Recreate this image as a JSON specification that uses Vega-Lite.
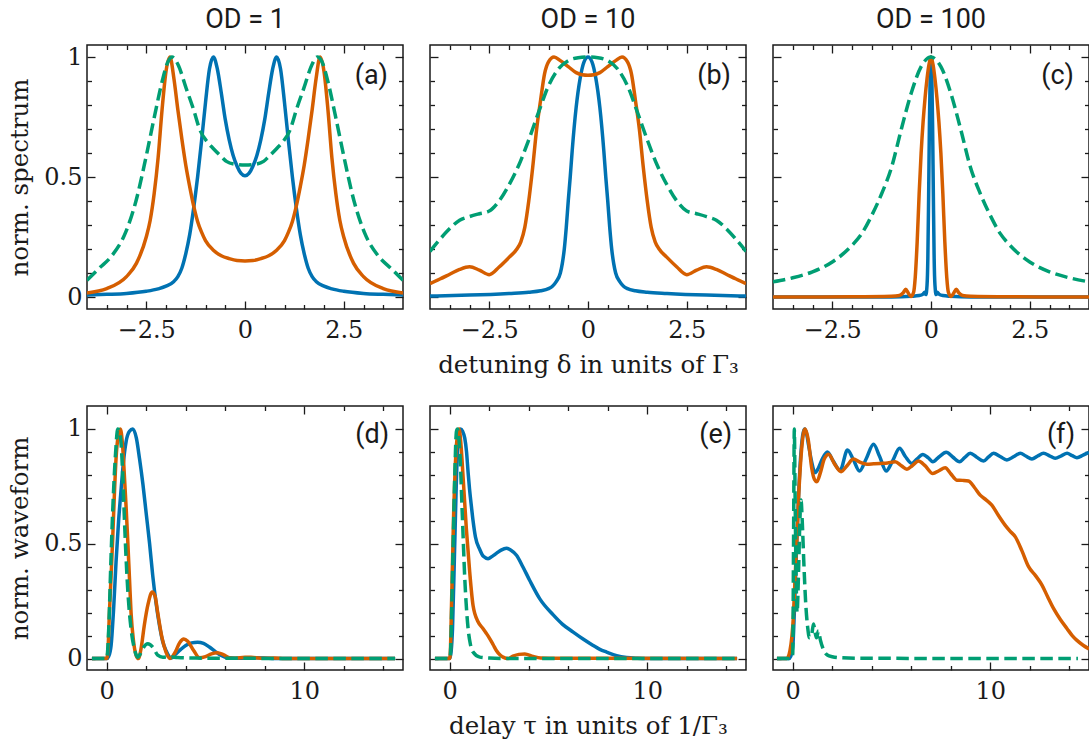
{
"$schema": "https://vega.github.io/schema/vega-lite/v6.json",
"background": "white",
"padding": {"left": 7, "top": 5, "right": 0, "bottom": 5},
"config": {
  "view": {"stroke": "#1a1a1a", "strokeWidth": 1.5},
  "axis": {"domain": false, "grid": false, "tickColor": "#1a1a1a", "tickWidth": 1.3, "labelFont": "DejaVu Serif", "labelFontSize": 24, "labelColor": "#1a1a1a", "titleFont": "DejaVu Serif", "titleFontSize": 24.5, "titleFontWeight": "normal", "titleColor": "#1a1a1a"},
  "title": {"font": "Roboto", "fontSize": 27, "fontWeight": "normal", "color": "#1a1a1a", "offset": 10, "frame": "group", "anchor": "middle"}
},
"datasets": {
  "a_b": [{"x":-4,"y":0.008},{"x":-3.5,"y":0.011},{"x":-3,"y":0.015},{"x":-2.5,"y":0.024},{"x":-2.2,"y":0.034},{"x":-2,"y":0.045},{"x":-1.8,"y":0.065},{"x":-1.7,"y":0.085},{"x":-1.6,"y":0.12},{"x":-1.5,"y":0.18},{"x":-1.4,"y":0.26},{"x":-1.3,"y":0.37},{"x":-1.2,"y":0.5},{"x":-1.1,"y":0.65},{"x":-1,"y":0.81},{"x":-0.9,"y":0.95},{"x":-0.8,"y":1},{"x":-0.7,"y":0.95},{"x":-0.6,"y":0.85},{"x":-0.5,"y":0.74},{"x":-0.4,"y":0.655},{"x":-0.3,"y":0.59},{"x":-0.2,"y":0.545},{"x":-0.1,"y":0.515},{"x":0,"y":0.505},{"x":0.1,"y":0.515},{"x":0.2,"y":0.545},{"x":0.3,"y":0.59},{"x":0.4,"y":0.655},{"x":0.5,"y":0.74},{"x":0.6,"y":0.85},{"x":0.7,"y":0.95},{"x":0.8,"y":1},{"x":0.9,"y":0.95},{"x":1,"y":0.81},{"x":1.1,"y":0.65},{"x":1.2,"y":0.5},{"x":1.3,"y":0.37},{"x":1.4,"y":0.26},{"x":1.5,"y":0.18},{"x":1.6,"y":0.12},{"x":1.7,"y":0.085},{"x":1.8,"y":0.065},{"x":2,"y":0.045},{"x":2.2,"y":0.034},{"x":2.5,"y":0.024},{"x":3,"y":0.015},{"x":3.5,"y":0.011},{"x":4,"y":0.008}],
  "a_o": [{"x":-4,"y":0.017},{"x":-3.5,"y":0.035},{"x":-3,"y":0.085},{"x":-2.75,"y":0.14},{"x":-2.5,"y":0.25},{"x":-2.4,"y":0.32},{"x":-2.3,"y":0.43},{"x":-2.2,"y":0.58},{"x":-2.1,"y":0.78},{"x":-2,"y":0.94},{"x":-1.9,"y":1},{"x":-1.8,"y":0.91},{"x":-1.7,"y":0.78},{"x":-1.6,"y":0.66},{"x":-1.5,"y":0.55},{"x":-1.4,"y":0.46},{"x":-1.3,"y":0.38},{"x":-1.2,"y":0.315},{"x":-1.1,"y":0.27},{"x":-1,"y":0.235},{"x":-0.8,"y":0.195},{"x":-0.6,"y":0.172},{"x":-0.4,"y":0.16},{"x":-0.2,"y":0.152},{"x":0,"y":0.15},{"x":0.2,"y":0.152},{"x":0.4,"y":0.16},{"x":0.6,"y":0.172},{"x":0.8,"y":0.195},{"x":1,"y":0.235},{"x":1.1,"y":0.27},{"x":1.2,"y":0.315},{"x":1.3,"y":0.38},{"x":1.4,"y":0.46},{"x":1.5,"y":0.55},{"x":1.6,"y":0.66},{"x":1.7,"y":0.78},{"x":1.8,"y":0.91},{"x":1.9,"y":1},{"x":2,"y":0.94},{"x":2.1,"y":0.78},{"x":2.2,"y":0.58},{"x":2.3,"y":0.43},{"x":2.4,"y":0.32},{"x":2.5,"y":0.25},{"x":2.75,"y":0.14},{"x":3,"y":0.085},{"x":3.5,"y":0.035},{"x":4,"y":0.017}],
  "a_g": [{"x":-4,"y":0.07},{"x":-3.69,"y":0.12},{"x":-3.36,"y":0.174},{"x":-3.02,"y":0.27},{"x":-2.76,"y":0.4},{"x":-2.51,"y":0.58},{"x":-2.3,"y":0.746},{"x":-2.08,"y":0.91},{"x":-1.95,"y":0.98},{"x":-1.85,"y":1},{"x":-1.7,"y":0.97},{"x":-1.49,"y":0.87},{"x":-1.3,"y":0.78},{"x":-1.15,"y":0.7},{"x":-0.95,"y":0.645},{"x":-0.81,"y":0.62},{"x":-0.6,"y":0.585},{"x":-0.47,"y":0.565},{"x":-0.25,"y":0.553},{"x":0,"y":0.55},{"x":0.25,"y":0.553},{"x":0.47,"y":0.565},{"x":0.6,"y":0.585},{"x":0.81,"y":0.62},{"x":0.95,"y":0.645},{"x":1.15,"y":0.7},{"x":1.3,"y":0.78},{"x":1.49,"y":0.87},{"x":1.7,"y":0.97},{"x":1.83,"y":1},{"x":1.95,"y":0.98},{"x":2.08,"y":0.91},{"x":2.3,"y":0.746},{"x":2.51,"y":0.58},{"x":2.76,"y":0.4},{"x":3.02,"y":0.27},{"x":3.36,"y":0.174},{"x":3.69,"y":0.12},{"x":4,"y":0.07}],
  "b_b": [{"x":-4,"y":0.004},{"x":-3,"y":0.008},{"x":-2,"y":0.015},{"x":-1.5,"y":0.02},{"x":-1.2,"y":0.026},{"x":-1,"y":0.035},{"x":-0.9,"y":0.045},{"x":-0.8,"y":0.065},{"x":-0.7,"y":0.1},{"x":-0.65,"y":0.14},{"x":-0.6,"y":0.2},{"x":-0.55,"y":0.29},{"x":-0.5,"y":0.4},{"x":-0.45,"y":0.5},{"x":-0.4,"y":0.61},{"x":-0.3,"y":0.79},{"x":-0.2,"y":0.91},{"x":-0.1,"y":0.98},{"x":0,"y":1},{"x":0.1,"y":0.98},{"x":0.2,"y":0.91},{"x":0.3,"y":0.79},{"x":0.4,"y":0.61},{"x":0.45,"y":0.5},{"x":0.5,"y":0.4},{"x":0.55,"y":0.29},{"x":0.6,"y":0.2},{"x":0.65,"y":0.14},{"x":0.7,"y":0.1},{"x":0.8,"y":0.065},{"x":0.9,"y":0.045},{"x":1,"y":0.035},{"x":1.2,"y":0.026},{"x":1.5,"y":0.02},{"x":2,"y":0.015},{"x":3,"y":0.008},{"x":4,"y":0.004}],
  "b_o": [{"x":-4,"y":0.056},{"x":-3.75,"y":0.075},{"x":-3.5,"y":0.095},{"x":-3.25,"y":0.115},{"x":-3,"y":0.126},{"x":-2.75,"y":0.112},{"x":-2.5,"y":0.093},{"x":-2.25,"y":0.125},{"x":-2,"y":0.165},{"x":-1.8,"y":0.2},{"x":-1.7,"y":0.23},{"x":-1.6,"y":0.29},{"x":-1.5,"y":0.4},{"x":-1.4,"y":0.54},{"x":-1.3,"y":0.7},{"x":-1.2,"y":0.82},{"x":-1.1,"y":0.93},{"x":-1,"y":0.98},{"x":-0.86,"y":1},{"x":-0.7,"y":0.985},{"x":-0.5,"y":0.96},{"x":-0.3,"y":0.935},{"x":-0.15,"y":0.926},{"x":0,"y":0.924},{"x":0.15,"y":0.926},{"x":0.3,"y":0.935},{"x":0.5,"y":0.96},{"x":0.7,"y":0.985},{"x":0.86,"y":1},{"x":1,"y":0.98},{"x":1.1,"y":0.93},{"x":1.2,"y":0.82},{"x":1.3,"y":0.7},{"x":1.4,"y":0.54},{"x":1.5,"y":0.4},{"x":1.6,"y":0.29},{"x":1.7,"y":0.23},{"x":1.8,"y":0.2},{"x":2,"y":0.165},{"x":2.25,"y":0.125},{"x":2.5,"y":0.093},{"x":2.75,"y":0.112},{"x":3,"y":0.126},{"x":3.25,"y":0.115},{"x":3.5,"y":0.095},{"x":3.75,"y":0.075},{"x":4,"y":0.056}],
  "b_g": [{"x":-4,"y":0.19},{"x":-3.75,"y":0.24},{"x":-3.5,"y":0.285},{"x":-3.25,"y":0.32},{"x":-3,"y":0.335},{"x":-2.75,"y":0.347},{"x":-2.5,"y":0.358},{"x":-2.25,"y":0.4},{"x":-2,"y":0.467},{"x":-1.75,"y":0.55},{"x":-1.5,"y":0.655},{"x":-1.25,"y":0.77},{"x":-1,"y":0.88},{"x":-0.75,"y":0.95},{"x":-0.5,"y":0.985},{"x":-0.25,"y":0.997},{"x":0,"y":1},{"x":0.25,"y":0.997},{"x":0.5,"y":0.985},{"x":0.75,"y":0.95},{"x":1,"y":0.88},{"x":1.25,"y":0.77},{"x":1.5,"y":0.655},{"x":1.75,"y":0.55},{"x":2,"y":0.467},{"x":2.25,"y":0.4},{"x":2.5,"y":0.358},{"x":2.75,"y":0.347},{"x":3,"y":0.335},{"x":3.25,"y":0.32},{"x":3.5,"y":0.285},{"x":3.75,"y":0.24},{"x":4,"y":0.19}],
  "c_b": [{"x":-4,"y":0},{"x":-1,"y":0},{"x":-0.5,"y":0.003},{"x":-0.3,"y":0.006},{"x":-0.2,"y":0.012},{"x":-0.16,"y":0.02},{"x":-0.13,"y":0.01},{"x":-0.1,"y":0.05},{"x":-0.08,"y":0.16},{"x":-0.06,"y":0.42},{"x":-0.04,"y":0.72},{"x":-0.02,"y":0.93},{"x":0,"y":1},{"x":0.02,"y":0.93},{"x":0.04,"y":0.72},{"x":0.06,"y":0.42},{"x":0.08,"y":0.16},{"x":0.1,"y":0.05},{"x":0.13,"y":0.01},{"x":0.16,"y":0.02},{"x":0.2,"y":0.012},{"x":0.3,"y":0.006},{"x":0.5,"y":0.003},{"x":1,"y":0},{"x":4,"y":0}],
  "c_o": [{"x":-4,"y":0},{"x":-2,"y":0.001},{"x":-1,"y":0.003},{"x":-0.8,"y":0.006},{"x":-0.7,"y":0.018},{"x":-0.64,"y":0.032},{"x":-0.58,"y":0.018},{"x":-0.51,"y":0.002},{"x":-0.44,"y":0.02},{"x":-0.4,"y":0.08},{"x":-0.35,"y":0.23},{"x":-0.3,"y":0.43},{"x":-0.25,"y":0.6},{"x":-0.2,"y":0.73},{"x":-0.15,"y":0.83},{"x":-0.1,"y":0.91},{"x":-0.05,"y":0.97},{"x":0,"y":1},{"x":0.05,"y":0.97},{"x":0.1,"y":0.91},{"x":0.15,"y":0.83},{"x":0.2,"y":0.73},{"x":0.25,"y":0.6},{"x":0.3,"y":0.43},{"x":0.35,"y":0.23},{"x":0.4,"y":0.08},{"x":0.44,"y":0.02},{"x":0.51,"y":0.002},{"x":0.58,"y":0.018},{"x":0.64,"y":0.032},{"x":0.7,"y":0.018},{"x":0.8,"y":0.006},{"x":1,"y":0.003},{"x":2,"y":0.001},{"x":4,"y":0}],
  "c_g": [{"x":-4,"y":0.063},{"x":-3.5,"y":0.08},{"x":-3,"y":0.105},{"x":-2.5,"y":0.146},{"x":-2,"y":0.215},{"x":-1.75,"y":0.265},{"x":-1.5,"y":0.34},{"x":-1.25,"y":0.43},{"x":-1,"y":0.54},{"x":-0.75,"y":0.7},{"x":-0.5,"y":0.85},{"x":-0.25,"y":0.96},{"x":0,"y":1},{"x":0.25,"y":0.96},{"x":0.5,"y":0.85},{"x":0.75,"y":0.7},{"x":1,"y":0.54},{"x":1.25,"y":0.43},{"x":1.5,"y":0.34},{"x":1.75,"y":0.265},{"x":2,"y":0.215},{"x":2.5,"y":0.146},{"x":3,"y":0.105},{"x":3.5,"y":0.08},{"x":4,"y":0.063}],
  "d_b": [{"x":-0.75,"y":0},{"x":0,"y":0},{"x":0.1,"y":0.01},{"x":0.22,"y":0.057},{"x":0.35,"y":0.22},{"x":0.47,"y":0.42},{"x":0.6,"y":0.6},{"x":0.73,"y":0.74},{"x":0.85,"y":0.86},{"x":0.98,"y":0.945},{"x":1.15,"y":0.99},{"x":1.32,"y":1},{"x":1.5,"y":0.96},{"x":1.66,"y":0.87},{"x":1.83,"y":0.76},{"x":2,"y":0.63},{"x":2.17,"y":0.5},{"x":2.33,"y":0.36},{"x":2.5,"y":0.24},{"x":2.67,"y":0.144},{"x":2.83,"y":0.075},{"x":3,"y":0.035},{"x":3.15,"y":0.01},{"x":3.28,"y":0.002},{"x":3.5,"y":0.02},{"x":3.75,"y":0.04},{"x":4,"y":0.057},{"x":4.3,"y":0.068},{"x":4.6,"y":0.071},{"x":4.9,"y":0.066},{"x":5.2,"y":0.05},{"x":5.5,"y":0.03},{"x":5.8,"y":0.013},{"x":6.1,"y":0.003},{"x":6.5,"y":0.001},{"x":7,"y":0.002},{"x":7.5,"y":0.003},{"x":8,"y":0.002},{"x":8.5,"y":0},{"x":14.6,"y":0}],
  "d_o": [{"x":-0.75,"y":0},{"x":0,"y":0},{"x":0.07,"y":0.05},{"x":0.135,"y":0.2},{"x":0.22,"y":0.36},{"x":0.3,"y":0.52},{"x":0.38,"y":0.7},{"x":0.47,"y":0.87},{"x":0.58,"y":0.97},{"x":0.69,"y":1},{"x":0.8,"y":0.93},{"x":0.9,"y":0.785},{"x":0.98,"y":0.66},{"x":1.06,"y":0.52},{"x":1.15,"y":0.35},{"x":1.23,"y":0.2},{"x":1.35,"y":0.08},{"x":1.49,"y":0.013},{"x":1.6,"y":0},{"x":1.75,"y":0.05},{"x":1.9,"y":0.144},{"x":2.1,"y":0.24},{"x":2.3,"y":0.29},{"x":2.45,"y":0.27},{"x":2.58,"y":0.2},{"x":2.8,"y":0.09},{"x":3,"y":0.028},{"x":3.2,"y":0},{"x":3.45,"y":0.025},{"x":3.7,"y":0.07},{"x":3.9,"y":0.085},{"x":4.1,"y":0.075},{"x":4.4,"y":0.035},{"x":4.7,"y":0.003},{"x":5,"y":0.008},{"x":5.3,"y":0.02},{"x":5.6,"y":0.025},{"x":5.9,"y":0.017},{"x":6.2,"y":0.004},{"x":6.5,"y":0.001},{"x":7,"y":0.005},{"x":7.3,"y":0.005},{"x":7.8,"y":0.001},{"x":8.5,"y":0.002},{"x":9,"y":0},{"x":14.6,"y":0}],
  "d_g": [{"x":-0.75,"y":0},{"x":0,"y":0},{"x":0.05,"y":0.04},{"x":0.1,"y":0.13},{"x":0.22,"y":0.45},{"x":0.3,"y":0.64},{"x":0.44,"y":0.886},{"x":0.56,"y":1},{"x":0.65,"y":0.99},{"x":0.73,"y":0.93},{"x":0.82,"y":0.78},{"x":0.9,"y":0.595},{"x":1.06,"y":0.304},{"x":1.23,"y":0.13},{"x":1.4,"y":0.042},{"x":1.57,"y":0.006},{"x":1.7,"y":0.02},{"x":1.82,"y":0.042},{"x":2.08,"y":0.064},{"x":2.33,"y":0.05},{"x":2.58,"y":0.015},{"x":2.84,"y":0.006},{"x":3.2,"y":0.008},{"x":3.6,"y":0.004},{"x":4.5,"y":0.002},{"x":6,"y":0.001},{"x":14.6,"y":0}],
  "e_b": [{"x":-0.75,"y":0},{"x":0,"y":0},{"x":0.07,"y":0.03},{"x":0.14,"y":0.13},{"x":0.25,"y":0.49},{"x":0.37,"y":0.86},{"x":0.45,"y":0.96},{"x":0.54,"y":1},{"x":0.65,"y":0.99},{"x":0.76,"y":0.96},{"x":0.85,"y":0.9},{"x":0.93,"y":0.81},{"x":1,"y":0.74},{"x":1.1,"y":0.66},{"x":1.18,"y":0.6},{"x":1.3,"y":0.53},{"x":1.52,"y":0.475},{"x":1.7,"y":0.445},{"x":1.94,"y":0.435},{"x":2.15,"y":0.445},{"x":2.36,"y":0.458},{"x":2.6,"y":0.472},{"x":2.87,"y":0.48},{"x":3.1,"y":0.472},{"x":3.38,"y":0.45},{"x":3.7,"y":0.4},{"x":4.05,"y":0.34},{"x":4.56,"y":0.26},{"x":5.24,"y":0.19},{"x":5.7,"y":0.15},{"x":6.25,"y":0.115},{"x":6.75,"y":0.085},{"x":7.26,"y":0.057},{"x":7.6,"y":0.04},{"x":7.94,"y":0.028},{"x":8.45,"y":0.012},{"x":8.95,"y":0.004},{"x":9.5,"y":0.001},{"x":10,"y":0},{"x":14.55,"y":0}],
  "e_o": [{"x":-0.75,"y":0},{"x":0,"y":0},{"x":0.04,"y":0.05},{"x":0.08,"y":0.2},{"x":0.14,"y":0.42},{"x":0.2,"y":0.64},{"x":0.27,"y":0.82},{"x":0.34,"y":0.93},{"x":0.47,"y":1},{"x":0.57,"y":0.93},{"x":0.68,"y":0.785},{"x":0.84,"y":0.566},{"x":1.01,"y":0.377},{"x":1.18,"y":0.231},{"x":1.44,"y":0.159},{"x":1.69,"y":0.13},{"x":1.85,"y":0.11},{"x":2.03,"y":0.086},{"x":2.2,"y":0.06},{"x":2.36,"y":0.035},{"x":2.55,"y":0.015},{"x":2.7,"y":0.006},{"x":2.96,"y":0},{"x":3.2,"y":0.01},{"x":3.5,"y":0.018},{"x":3.8,"y":0.02},{"x":4.22,"y":0.009},{"x":4.6,"y":0.002},{"x":5.5,"y":0.001},{"x":14.55,"y":0}],
  "e_g": [{"x":-0.75,"y":0},{"x":0,"y":0},{"x":0.05,"y":0.05},{"x":0.1,"y":0.22},{"x":0.17,"y":0.49},{"x":0.25,"y":0.785},{"x":0.34,"y":0.99},{"x":0.39,"y":1},{"x":0.51,"y":0.9},{"x":0.63,"y":0.64},{"x":0.76,"y":0.35},{"x":0.93,"y":0.13},{"x":1.05,"y":0.06},{"x":1.18,"y":0.028},{"x":1.52,"y":0.006},{"x":2,"y":0.002},{"x":3,"y":0},{"x":14.55,"y":0}],
  "f_b": [{"x":-0.8,"y":0},{"x":-0.2,"y":0},{"x":-0.1,"y":0.01},{"x":0,"y":0.05},{"x":0.1,"y":0.25},{"x":0.2,"y":0.5},{"x":0.3,"y":0.72},{"x":0.4,"y":0.88},{"x":0.5,"y":0.97},{"x":0.6,"y":1},{"x":0.7,"y":0.98},{"x":0.8,"y":0.93},{"x":0.95,"y":0.86},{"x":1.13,"y":0.81},{"x":1.3,"y":0.83},{"x":1.5,"y":0.87},{"x":1.75,"y":0.9},{"x":2.05,"y":0.86},{"x":2.4,"y":0.82},{"x":2.77,"y":0.908},{"x":3.05,"y":0.87},{"x":3.38,"y":0.817},{"x":3.72,"y":0.87},{"x":4.09,"y":0.933},{"x":4.4,"y":0.88},{"x":4.73,"y":0.817},{"x":5.05,"y":0.86},{"x":5.41,"y":0.916},{"x":5.7,"y":0.88},{"x":6.03,"y":0.85},{"x":6.3,"y":0.87},{"x":6.59,"y":0.889},{"x":6.85,"y":0.875},{"x":7.09,"y":0.857},{"x":7.4,"y":0.878},{"x":7.77,"y":0.898},{"x":8.1,"y":0.878},{"x":8.45,"y":0.857},{"x":8.7,"y":0.875},{"x":8.99,"y":0.894},{"x":9.3,"y":0.878},{"x":9.66,"y":0.86},{"x":9.9,"y":0.877},{"x":10.17,"y":0.894},{"x":10.5,"y":0.88},{"x":10.84,"y":0.865},{"x":11.2,"y":0.88},{"x":11.52,"y":0.894},{"x":11.8,"y":0.882},{"x":12.11,"y":0.869},{"x":12.4,"y":0.882},{"x":12.7,"y":0.894},{"x":13,"y":0.883},{"x":13.29,"y":0.872},{"x":13.6,"y":0.883},{"x":13.89,"y":0.894},{"x":14.15,"y":0.884},{"x":14.39,"y":0.875},{"x":14.7,"y":0.886},{"x":15,"y":0.898}],
  "f_o": [{"x":-0.8,"y":0},{"x":-0.3,"y":0},{"x":-0.14,"y":0.035},{"x":0.03,"y":0.18},{"x":0.12,"y":0.355},{"x":0.2,"y":0.5},{"x":0.29,"y":0.69},{"x":0.42,"y":0.88},{"x":0.54,"y":0.98},{"x":0.62,"y":1},{"x":0.7,"y":0.985},{"x":0.79,"y":0.95},{"x":0.96,"y":0.83},{"x":1.1,"y":0.78},{"x":1.22,"y":0.77},{"x":1.4,"y":0.81},{"x":1.6,"y":0.87},{"x":1.82,"y":0.89},{"x":2.1,"y":0.85},{"x":2.45,"y":0.814},{"x":2.75,"y":0.84},{"x":3.07,"y":0.869},{"x":3.4,"y":0.855},{"x":3.75,"y":0.846},{"x":4.1,"y":0.848},{"x":4.43,"y":0.85},{"x":4.8,"y":0.852},{"x":5.19,"y":0.857},{"x":5.5,"y":0.84},{"x":5.78,"y":0.825},{"x":6.05,"y":0.84},{"x":6.37,"y":0.86},{"x":6.7,"y":0.84},{"x":7.09,"y":0.806},{"x":7.4,"y":0.818},{"x":7.72,"y":0.831},{"x":8,"y":0.805},{"x":8.31,"y":0.777},{"x":8.6,"y":0.776},{"x":8.9,"y":0.773},{"x":9.2,"y":0.745},{"x":9.49,"y":0.712},{"x":9.8,"y":0.69},{"x":10.08,"y":0.668},{"x":10.4,"y":0.625},{"x":10.76,"y":0.58},{"x":11,"y":0.555},{"x":11.27,"y":0.53},{"x":11.6,"y":0.47},{"x":11.94,"y":0.4},{"x":12.3,"y":0.36},{"x":12.62,"y":0.32},{"x":12.9,"y":0.27},{"x":13.21,"y":0.217},{"x":13.55,"y":0.17},{"x":13.89,"y":0.13},{"x":14.15,"y":0.1},{"x":14.39,"y":0.079},{"x":14.7,"y":0.058},{"x":15,"y":0.042}],
  "f_g": [{"x":-0.8,"y":0},{"x":-0.1,"y":0},{"x":0,"y":0.02},{"x":0.04,"y":0.5},{"x":0.08,"y":1},{"x":0.12,"y":0.7},{"x":0.17,"y":0.35},{"x":0.22,"y":0.2},{"x":0.3,"y":0.4},{"x":0.36,"y":0.6},{"x":0.42,"y":0.69},{"x":0.48,"y":0.6},{"x":0.56,"y":0.42},{"x":0.65,"y":0.25},{"x":0.75,"y":0.14},{"x":0.85,"y":0.09},{"x":0.95,"y":0.1},{"x":1.05,"y":0.15},{"x":1.12,"y":0.12},{"x":1.2,"y":0.09},{"x":1.3,"y":0.12},{"x":1.4,"y":0.08},{"x":1.55,"y":0.04},{"x":1.75,"y":0.015},{"x":2,"y":0.008},{"x":2.5,"y":0.003},{"x":3.5,"y":0.001},{"x":14.44,"y":0}]
},
"columns": 3,
"spacing": {"row": 97, "column": 27},
"bounds": "flush",
"concat": [
  {"width": 316, "height": 264, "title": "OD = 1",
   "layer": [
    {"data": {"name": "a_b"}, "mark": {"type": "line", "color": "#0072B2", "strokeWidth": 3.5, "interpolate": "monotone", "clip": true},
     "encoding": {"x": {"field": "x", "type": "quantitative", "scale": {"domain": [-4, 4], "nice": false, "zero": false}, "axis": {"orient": "bottom", "values": [-2.5, 0, 2.5], "ticks": false, "labelPadding": 9, "format": ".1~f", "title": null}},
                  "y": {"field": "y", "type": "quantitative", "scale": {"domain": [-0.05, 1.05], "nice": false, "zero": false}, "axis": {"orient": "left", "values": [0, 0.5, 1], "ticks": false, "labelPadding": 5, "format": ".1~f", "title": "norm. spectrum", "titlePadding": 11}}}},
    {"data": {"name": "a_o"}, "mark": {"type": "line", "color": "#D55E00", "strokeWidth": 3.5, "interpolate": "monotone", "clip": true},
     "encoding": {"x": {"field": "x", "type": "quantitative", "scale": {"domain": [-4, 4], "nice": false, "zero": false}, "axis": {"orient": "bottom", "values": [-2.5, 0, 2.5], "labels": false, "tickSize": -8, "title": null}},
                  "y": {"field": "y", "type": "quantitative", "scale": {"domain": [-0.05, 1.05], "nice": false, "zero": false}, "axis": {"orient": "left", "values": [0, 0.5, 1], "labels": false, "tickSize": -8, "title": null}}}},
    {"data": {"name": "a_g"}, "mark": {"type": "line", "color": "#009E73", "strokeWidth": 3.5, "strokeDash": [12.5, 5.5], "interpolate": "monotone", "clip": true},
     "encoding": {"x": {"field": "x", "type": "quantitative", "scale": {"domain": [-4, 4], "nice": false, "zero": false}, "axis": {"orient": "top", "values": [-2.5, 0, 2.5], "labels": false, "tickSize": -8, "title": null}},
                  "y": {"field": "y", "type": "quantitative", "scale": {"domain": [-0.05, 1.05], "nice": false, "zero": false}, "axis": {"orient": "right", "values": [0, 0.5, 1], "labels": false, "tickSize": -8, "title": null}}}},
    {"data": {"values": [{"x": 3.62, "y": 0.92, "t": "(a)"}]}, "mark": {"type": "text", "align": "right", "baseline": "middle", "font": "Roboto", "fontSize": 27, "color": "#1a1a1a"},
     "encoding": {"x": {"field": "x", "type": "quantitative", "scale": {"domain": [-4, 4], "nice": false, "zero": false}, "axis": {"orient": "bottom", "values": [-3.5, -3, -2, -1.5, -1, -0.5, 0.5, 1, 1.5, 2, 3, 3.5], "labels": false, "tickSize": -4.5, "title": null}},
                  "y": {"field": "y", "type": "quantitative", "scale": {"domain": [-0.05, 1.05], "nice": false, "zero": false}, "axis": {"orient": "left", "values": [0.1, 0.2, 0.3, 0.4, 0.6, 0.7, 0.8, 0.9], "labels": false, "tickSize": -4.5, "title": null}},
                  "text": {"field": "t"}}},
    {"data": {"values": [{"x": 0, "y": 0}]}, "mark": {"type": "point", "opacity": 0},
     "encoding": {"x": {"field": "x", "type": "quantitative", "scale": {"domain": [-4, 4], "nice": false, "zero": false}, "axis": {"orient": "top", "values": [-3.5, -3, -2, -1.5, -1, -0.5, 0.5, 1, 1.5, 2, 3, 3.5], "labels": false, "tickSize": -4.5, "title": null}},
                  "y": {"field": "y", "type": "quantitative", "scale": {"domain": [-0.05, 1.05], "nice": false, "zero": false}, "axis": {"orient": "right", "values": [0.1, 0.2, 0.3, 0.4, 0.6, 0.7, 0.8, 0.9], "labels": false, "tickSize": -4.5, "title": null}}}}
   ],
   "resolve": {"axis": {"x": "independent", "y": "independent"}}},
  {"width": 316, "height": 264, "title": "OD = 10",
   "layer": [
    {"data": {"name": "b_b"}, "mark": {"type": "line", "color": "#0072B2", "strokeWidth": 3.5, "interpolate": "monotone", "clip": true},
     "encoding": {"x": {"field": "x", "type": "quantitative", "scale": {"domain": [-4, 4], "nice": false, "zero": false}, "axis": {"orient": "bottom", "values": [-2.5, 0, 2.5], "ticks": false, "labelPadding": 9, "format": ".1~f", "title": "detuning δ in units of Γ₃", "titlePadding": 11}},
                  "y": {"field": "y", "type": "quantitative", "scale": {"domain": [-0.05, 1.05], "nice": false, "zero": false}, "axis": {"orient": "left", "values": [0, 0.5, 1], "ticks": false, "labels": false, "title": null}}}},
    {"data": {"name": "b_o"}, "mark": {"type": "line", "color": "#D55E00", "strokeWidth": 3.5, "interpolate": "monotone", "clip": true},
     "encoding": {"x": {"field": "x", "type": "quantitative", "scale": {"domain": [-4, 4], "nice": false, "zero": false}, "axis": {"orient": "bottom", "values": [-2.5, 0, 2.5], "labels": false, "tickSize": -8, "title": null}},
                  "y": {"field": "y", "type": "quantitative", "scale": {"domain": [-0.05, 1.05], "nice": false, "zero": false}, "axis": {"orient": "left", "values": [0, 0.5, 1], "labels": false, "tickSize": -8, "title": null}}}},
    {"data": {"name": "b_g"}, "mark": {"type": "line", "color": "#009E73", "strokeWidth": 3.5, "strokeDash": [12.5, 5.5], "interpolate": "monotone", "clip": true},
     "encoding": {"x": {"field": "x", "type": "quantitative", "scale": {"domain": [-4, 4], "nice": false, "zero": false}, "axis": {"orient": "top", "values": [-2.5, 0, 2.5], "labels": false, "tickSize": -8, "title": null}},
                  "y": {"field": "y", "type": "quantitative", "scale": {"domain": [-0.05, 1.05], "nice": false, "zero": false}, "axis": {"orient": "right", "values": [0, 0.5, 1], "labels": false, "tickSize": -8, "title": null}}}},
    {"data": {"values": [{"x": 3.62, "y": 0.92, "t": "(b)"}]}, "mark": {"type": "text", "align": "right", "baseline": "middle", "font": "Roboto", "fontSize": 27, "color": "#1a1a1a"},
     "encoding": {"x": {"field": "x", "type": "quantitative", "scale": {"domain": [-4, 4], "nice": false, "zero": false}, "axis": {"orient": "bottom", "values": [-3.5, -3, -2, -1.5, -1, -0.5, 0.5, 1, 1.5, 2, 3, 3.5], "labels": false, "tickSize": -4.5, "title": null}},
                  "y": {"field": "y", "type": "quantitative", "scale": {"domain": [-0.05, 1.05], "nice": false, "zero": false}, "axis": {"orient": "left", "values": [0.1, 0.2, 0.3, 0.4, 0.6, 0.7, 0.8, 0.9], "labels": false, "tickSize": -4.5, "title": null}},
                  "text": {"field": "t"}}},
    {"data": {"values": [{"x": 0, "y": 0}]}, "mark": {"type": "point", "opacity": 0},
     "encoding": {"x": {"field": "x", "type": "quantitative", "scale": {"domain": [-4, 4], "nice": false, "zero": false}, "axis": {"orient": "top", "values": [-3.5, -3, -2, -1.5, -1, -0.5, 0.5, 1, 1.5, 2, 3, 3.5], "labels": false, "tickSize": -4.5, "title": null}},
                  "y": {"field": "y", "type": "quantitative", "scale": {"domain": [-0.05, 1.05], "nice": false, "zero": false}, "axis": {"orient": "right", "values": [0.1, 0.2, 0.3, 0.4, 0.6, 0.7, 0.8, 0.9], "labels": false, "tickSize": -4.5, "title": null}}}}
   ],
   "resolve": {"axis": {"x": "independent", "y": "independent"}}},
  {"width": 316, "height": 264, "title": "OD = 100",
   "layer": [
    {"data": {"name": "c_b"}, "mark": {"type": "line", "color": "#0072B2", "strokeWidth": 3.5, "interpolate": "monotone", "clip": true},
     "encoding": {"x": {"field": "x", "type": "quantitative", "scale": {"domain": [-4, 4], "nice": false, "zero": false}, "axis": {"orient": "bottom", "values": [-2.5, 0, 2.5], "ticks": false, "labelPadding": 9, "format": ".1~f", "title": null}},
                  "y": {"field": "y", "type": "quantitative", "scale": {"domain": [-0.05, 1.05], "nice": false, "zero": false}, "axis": {"orient": "left", "values": [0, 0.5, 1], "ticks": false, "labels": false, "title": null}}}},
    {"data": {"name": "c_o"}, "mark": {"type": "line", "color": "#D55E00", "strokeWidth": 3.5, "interpolate": "monotone", "clip": true},
     "encoding": {"x": {"field": "x", "type": "quantitative", "scale": {"domain": [-4, 4], "nice": false, "zero": false}, "axis": {"orient": "bottom", "values": [-2.5, 0, 2.5], "labels": false, "tickSize": -8, "title": null}},
                  "y": {"field": "y", "type": "quantitative", "scale": {"domain": [-0.05, 1.05], "nice": false, "zero": false}, "axis": {"orient": "left", "values": [0, 0.5, 1], "labels": false, "tickSize": -8, "title": null}}}},
    {"data": {"name": "c_g"}, "mark": {"type": "line", "color": "#009E73", "strokeWidth": 3.5, "strokeDash": [12.5, 5.5], "interpolate": "monotone", "clip": true},
     "encoding": {"x": {"field": "x", "type": "quantitative", "scale": {"domain": [-4, 4], "nice": false, "zero": false}, "axis": {"orient": "top", "values": [-2.5, 0, 2.5], "labels": false, "tickSize": -8, "title": null}},
                  "y": {"field": "y", "type": "quantitative", "scale": {"domain": [-0.05, 1.05], "nice": false, "zero": false}, "axis": {"orient": "right", "values": [0, 0.5, 1], "labels": false, "tickSize": -8, "title": null}}}},
    {"data": {"values": [{"x": 3.62, "y": 0.92, "t": "(c)"}]}, "mark": {"type": "text", "align": "right", "baseline": "middle", "font": "Roboto", "fontSize": 27, "color": "#1a1a1a"},
     "encoding": {"x": {"field": "x", "type": "quantitative", "scale": {"domain": [-4, 4], "nice": false, "zero": false}, "axis": {"orient": "bottom", "values": [-3.5, -3, -2, -1.5, -1, -0.5, 0.5, 1, 1.5, 2, 3, 3.5], "labels": false, "tickSize": -4.5, "title": null}},
                  "y": {"field": "y", "type": "quantitative", "scale": {"domain": [-0.05, 1.05], "nice": false, "zero": false}, "axis": {"orient": "left", "values": [0.1, 0.2, 0.3, 0.4, 0.6, 0.7, 0.8, 0.9], "labels": false, "tickSize": -4.5, "title": null}},
                  "text": {"field": "t"}}},
    {"data": {"values": [{"x": 0, "y": 0}]}, "mark": {"type": "point", "opacity": 0},
     "encoding": {"x": {"field": "x", "type": "quantitative", "scale": {"domain": [-4, 4], "nice": false, "zero": false}, "axis": {"orient": "top", "values": [-3.5, -3, -2, -1.5, -1, -0.5, 0.5, 1, 1.5, 2, 3, 3.5], "labels": false, "tickSize": -4.5, "title": null}},
                  "y": {"field": "y", "type": "quantitative", "scale": {"domain": [-0.05, 1.05], "nice": false, "zero": false}, "axis": {"orient": "right", "values": [0.1, 0.2, 0.3, 0.4, 0.6, 0.7, 0.8, 0.9], "labels": false, "tickSize": -4.5, "title": null}}}}
   ],
   "resolve": {"axis": {"x": "independent", "y": "independent"}}},
  {"width": 316, "height": 264,
   "layer": [
    {"data": {"name": "d_b"}, "mark": {"type": "line", "color": "#0072B2", "strokeWidth": 3.5, "interpolate": "monotone", "clip": true},
     "encoding": {"x": {"field": "x", "type": "quantitative", "scale": {"domain": [-1, 15], "nice": false, "zero": false}, "axis": {"orient": "bottom", "values": [0, 10], "ticks": false, "labelPadding": 9, "format": ".1~f", "title": null}},
                  "y": {"field": "y", "type": "quantitative", "scale": {"domain": [-0.05, 1.1], "nice": false, "zero": false}, "axis": {"orient": "left", "values": [0, 0.5, 1], "ticks": false, "labelPadding": 5, "format": ".1~f", "title": "norm. waveform", "titlePadding": 11}}}},
    {"data": {"name": "d_o"}, "mark": {"type": "line", "color": "#D55E00", "strokeWidth": 3.5, "interpolate": "monotone", "clip": true},
     "encoding": {"x": {"field": "x", "type": "quantitative", "scale": {"domain": [-1, 15], "nice": false, "zero": false}, "axis": {"orient": "bottom", "values": [0, 10], "labels": false, "tickSize": -8, "title": null}},
                  "y": {"field": "y", "type": "quantitative", "scale": {"domain": [-0.05, 1.1], "nice": false, "zero": false}, "axis": {"orient": "left", "values": [0, 0.5, 1], "labels": false, "tickSize": -8, "title": null}}}},
    {"data": {"name": "d_g"}, "mark": {"type": "line", "color": "#009E73", "strokeWidth": 3.5, "strokeDash": [12.5, 5.5], "interpolate": "monotone", "clip": true},
     "encoding": {"x": {"field": "x", "type": "quantitative", "scale": {"domain": [-1, 15], "nice": false, "zero": false}, "axis": {"orient": "top", "values": [0, 10], "labels": false, "tickSize": -8, "title": null}},
                  "y": {"field": "y", "type": "quantitative", "scale": {"domain": [-0.05, 1.1], "nice": false, "zero": false}, "axis": {"orient": "right", "values": [0, 0.5, 1], "labels": false, "tickSize": -8, "title": null}}}},
    {"data": {"values": [{"x": 14.3, "y": 0.974, "t": "(d)"}]}, "mark": {"type": "text", "align": "right", "baseline": "middle", "font": "Roboto", "fontSize": 27, "color": "#1a1a1a"},
     "encoding": {"x": {"field": "x", "type": "quantitative", "scale": {"domain": [-1, 15], "nice": false, "zero": false}, "axis": {"orient": "bottom", "values": [2, 4, 6, 8, 12, 14], "labels": false, "tickSize": -4.5, "title": null}},
                  "y": {"field": "y", "type": "quantitative", "scale": {"domain": [-0.05, 1.1], "nice": false, "zero": false}, "axis": {"orient": "left", "values": [0.1, 0.2, 0.3, 0.4, 0.6, 0.7, 0.8, 0.9], "labels": false, "tickSize": -4.5, "title": null}},
                  "text": {"field": "t"}}},
    {"data": {"values": [{"x": 0, "y": 0}]}, "mark": {"type": "point", "opacity": 0},
     "encoding": {"x": {"field": "x", "type": "quantitative", "scale": {"domain": [-1, 15], "nice": false, "zero": false}, "axis": {"orient": "top", "values": [2, 4, 6, 8, 12, 14], "labels": false, "tickSize": -4.5, "title": null}},
                  "y": {"field": "y", "type": "quantitative", "scale": {"domain": [-0.05, 1.1], "nice": false, "zero": false}, "axis": {"orient": "right", "values": [0.1, 0.2, 0.3, 0.4, 0.6, 0.7, 0.8, 0.9], "labels": false, "tickSize": -4.5, "title": null}}}}
   ],
   "resolve": {"axis": {"x": "independent", "y": "independent"}}},
  {"width": 316, "height": 264,
   "layer": [
    {"data": {"name": "e_b"}, "mark": {"type": "line", "color": "#0072B2", "strokeWidth": 3.5, "interpolate": "monotone", "clip": true},
     "encoding": {"x": {"field": "x", "type": "quantitative", "scale": {"domain": [-1, 15], "nice": false, "zero": false}, "axis": {"orient": "bottom", "values": [0, 10], "ticks": false, "labelPadding": 9, "format": ".1~f", "title": "delay τ in units of 1/Γ₃", "titlePadding": 11}},
                  "y": {"field": "y", "type": "quantitative", "scale": {"domain": [-0.05, 1.1], "nice": false, "zero": false}, "axis": {"orient": "left", "values": [0, 0.5, 1], "ticks": false, "labels": false, "title": null}}}},
    {"data": {"name": "e_o"}, "mark": {"type": "line", "color": "#D55E00", "strokeWidth": 3.5, "interpolate": "monotone", "clip": true},
     "encoding": {"x": {"field": "x", "type": "quantitative", "scale": {"domain": [-1, 15], "nice": false, "zero": false}, "axis": {"orient": "bottom", "values": [0, 10], "labels": false, "tickSize": -8, "title": null}},
                  "y": {"field": "y", "type": "quantitative", "scale": {"domain": [-0.05, 1.1], "nice": false, "zero": false}, "axis": {"orient": "left", "values": [0, 0.5, 1], "labels": false, "tickSize": -8, "title": null}}}},
    {"data": {"name": "e_g"}, "mark": {"type": "line", "color": "#009E73", "strokeWidth": 3.5, "strokeDash": [12.5, 5.5], "interpolate": "monotone", "clip": true},
     "encoding": {"x": {"field": "x", "type": "quantitative", "scale": {"domain": [-1, 15], "nice": false, "zero": false}, "axis": {"orient": "top", "values": [0, 10], "labels": false, "tickSize": -8, "title": null}},
                  "y": {"field": "y", "type": "quantitative", "scale": {"domain": [-0.05, 1.1], "nice": false, "zero": false}, "axis": {"orient": "right", "values": [0, 0.5, 1], "labels": false, "tickSize": -8, "title": null}}}},
    {"data": {"values": [{"x": 14.3, "y": 0.974, "t": "(e)"}]}, "mark": {"type": "text", "align": "right", "baseline": "middle", "font": "Roboto", "fontSize": 27, "color": "#1a1a1a"},
     "encoding": {"x": {"field": "x", "type": "quantitative", "scale": {"domain": [-1, 15], "nice": false, "zero": false}, "axis": {"orient": "bottom", "values": [2, 4, 6, 8, 12, 14], "labels": false, "tickSize": -4.5, "title": null}},
                  "y": {"field": "y", "type": "quantitative", "scale": {"domain": [-0.05, 1.1], "nice": false, "zero": false}, "axis": {"orient": "left", "values": [0.1, 0.2, 0.3, 0.4, 0.6, 0.7, 0.8, 0.9], "labels": false, "tickSize": -4.5, "title": null}},
                  "text": {"field": "t"}}},
    {"data": {"values": [{"x": 0, "y": 0}]}, "mark": {"type": "point", "opacity": 0},
     "encoding": {"x": {"field": "x", "type": "quantitative", "scale": {"domain": [-1, 15], "nice": false, "zero": false}, "axis": {"orient": "top", "values": [2, 4, 6, 8, 12, 14], "labels": false, "tickSize": -4.5, "title": null}},
                  "y": {"field": "y", "type": "quantitative", "scale": {"domain": [-0.05, 1.1], "nice": false, "zero": false}, "axis": {"orient": "right", "values": [0.1, 0.2, 0.3, 0.4, 0.6, 0.7, 0.8, 0.9], "labels": false, "tickSize": -4.5, "title": null}}}}
   ],
   "resolve": {"axis": {"x": "independent", "y": "independent"}}},
  {"width": 316, "height": 264,
   "layer": [
    {"data": {"name": "f_b"}, "mark": {"type": "line", "color": "#0072B2", "strokeWidth": 3.5, "interpolate": "monotone", "clip": true},
     "encoding": {"x": {"field": "x", "type": "quantitative", "scale": {"domain": [-1, 15], "nice": false, "zero": false}, "axis": {"orient": "bottom", "values": [0, 10], "ticks": false, "labelPadding": 9, "format": ".1~f", "title": null}},
                  "y": {"field": "y", "type": "quantitative", "scale": {"domain": [-0.05, 1.1], "nice": false, "zero": false}, "axis": {"orient": "left", "values": [0, 0.5, 1], "ticks": false, "labels": false, "title": null}}}},
    {"data": {"name": "f_o"}, "mark": {"type": "line", "color": "#D55E00", "strokeWidth": 3.5, "interpolate": "monotone", "clip": true},
     "encoding": {"x": {"field": "x", "type": "quantitative", "scale": {"domain": [-1, 15], "nice": false, "zero": false}, "axis": {"orient": "bottom", "values": [0, 10], "labels": false, "tickSize": -8, "title": null}},
                  "y": {"field": "y", "type": "quantitative", "scale": {"domain": [-0.05, 1.1], "nice": false, "zero": false}, "axis": {"orient": "left", "values": [0, 0.5, 1], "labels": false, "tickSize": -8, "title": null}}}},
    {"data": {"name": "f_g"}, "mark": {"type": "line", "color": "#009E73", "strokeWidth": 3.5, "strokeDash": [12.5, 5.5], "interpolate": "monotone", "clip": true},
     "encoding": {"x": {"field": "x", "type": "quantitative", "scale": {"domain": [-1, 15], "nice": false, "zero": false}, "axis": {"orient": "top", "values": [0, 10], "labels": false, "tickSize": -8, "title": null}},
                  "y": {"field": "y", "type": "quantitative", "scale": {"domain": [-0.05, 1.1], "nice": false, "zero": false}, "axis": {"orient": "right", "values": [0, 0.5, 1], "labels": false, "tickSize": -8, "title": null}}}},
    {"data": {"values": [{"x": 14.3, "y": 0.974, "t": "(f)"}]}, "mark": {"type": "text", "align": "right", "baseline": "middle", "font": "Roboto", "fontSize": 27, "color": "#1a1a1a"},
     "encoding": {"x": {"field": "x", "type": "quantitative", "scale": {"domain": [-1, 15], "nice": false, "zero": false}, "axis": {"orient": "bottom", "values": [2, 4, 6, 8, 12, 14], "labels": false, "tickSize": -4.5, "title": null}},
                  "y": {"field": "y", "type": "quantitative", "scale": {"domain": [-0.05, 1.1], "nice": false, "zero": false}, "axis": {"orient": "left", "values": [0.1, 0.2, 0.3, 0.4, 0.6, 0.7, 0.8, 0.9], "labels": false, "tickSize": -4.5, "title": null}},
                  "text": {"field": "t"}}},
    {"data": {"values": [{"x": 0, "y": 0}]}, "mark": {"type": "point", "opacity": 0},
     "encoding": {"x": {"field": "x", "type": "quantitative", "scale": {"domain": [-1, 15], "nice": false, "zero": false}, "axis": {"orient": "top", "values": [2, 4, 6, 8, 12, 14], "labels": false, "tickSize": -4.5, "title": null}},
                  "y": {"field": "y", "type": "quantitative", "scale": {"domain": [-0.05, 1.1], "nice": false, "zero": false}, "axis": {"orient": "right", "values": [0.1, 0.2, 0.3, 0.4, 0.6, 0.7, 0.8, 0.9], "labels": false, "tickSize": -4.5, "title": null}}}}
   ],
   "resolve": {"axis": {"x": "independent", "y": "independent"}}}
]
}
